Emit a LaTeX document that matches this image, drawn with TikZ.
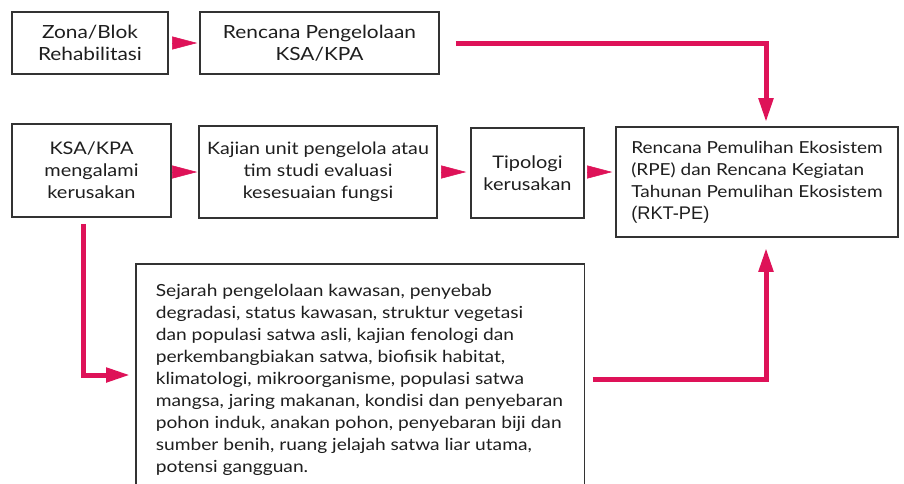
\documentclass[tikz,border=0pt]{standalone}
\usepackage{fontspec}
\setmainfont{Lato}[FakeStretch=1.15]
\newfontfamily\rktfont{Liberation Sans}
\usetikzlibrary{arrows.meta}
\definecolor{flowpink}{HTML}{DE1258}
\definecolor{boxline}{HTML}{333333}
\definecolor{inkgray}{HTML}{1E1E1E}
\begin{document}
% one coordinate unit = 0.75pt
\begin{tikzpicture}[x=0.75pt,y=-0.75pt,
  box/.style={draw=boxline, line width=1.2pt, text=inkgray, align=center,
    inner sep=0pt, font=\fontsize{13}{16.5}\selectfont},
  bigtext/.style={font=\fontsize{13.6}{16.5}\selectfont},
  tiparrow/.style={draw=flowpink, fill=flowpink, line width=0.4pt,
    -{Triangle[length=18.75pt,width=9.75pt]}},
  flow/.style={draw=flowpink, line width=3.75pt,
    -{Triangle[length=18pt,width=10.5pt]}},
]
\useasboundingbox (0,0) rectangle (904,483);
\clip (0,0) rectangle (904,483);

% top row
\node[box, bigtext, minimum width=117pt, minimum height=46.5pt] (zona) at (90,43)
  {Zona/Blok\\Rehabilitasi};
\node[box, bigtext, minimum width=179.25pt, minimum height=46.5pt] (rpk) at (319.5,43)
  {Rencana Pengelolaan\\KSA/KPA};

% middle row
\node[box, minimum width=119.25pt, minimum height=69.75pt] (rusak) at (91.5,170.5)
  {KSA/KPA\\mengalami\\kerusakan};
\node[box, font=\fontsize{12.8}{16.5}\selectfont, minimum width=178.5pt,
  minimum height=69pt] (kajian) at (318,172)
  {Kajian unit pengelola atau\\tim studi evaluasi\\kesesuaian fungsi};
\node[box, minimum width=84.75pt, minimum height=67.5pt] (tipo) at (527.5,173)
  {Tipologi\\kerusakan};
\node[box, minimum width=211.5pt, minimum height=82.5pt, align=left,
  font=\fontsize{12.4}{16.5}\selectfont] (rpe) at (757,182)
  {Rencana Pemulihan Ekosistem\\(RPE) dan Rencana Kegiatan\\Tahunan Pemulihan Ekosistem\\
   {\rktfont\fontsize{13.7}{17.5}\selectfont (RKT-PE)}};

% open-bottomed box with the list of studies
\node[box, draw=none, anchor=north west, minimum width=335.25pt,
  minimum height=180pt] (hist) at (136,264) {};
\node[box, draw=none, anchor=north west, align=left,
  font=\fontsize{12.5}{16.5}\selectfont] (histtext) at ([shift={(19,19)}]hist.north west)
  {Sejarah pengelolaan kawasan, penyebab\\
   degradasi, status kawasan, struktur vegetasi\\
   dan populasi satwa asli, kajian fenologi dan\\
   perkembangbiakan satwa, biofisik habitat,\\
   klimatologi, mikroorganisme, populasi satwa\\
   mangsa, jaring makanan, kondisi dan penyebaran\\
   pohon induk, anakan pohon, penyebaran biji dan\\
   sumber benih, ruang jelajah satwa liar utama,\\
   potensi gangguan.};
\draw[draw=boxline, line width=1.2pt]
  (hist.south west) -- (hist.north west) -- (hist.north east) -- (hist.south east);

% short arrow heads between neighbouring boxes
\draw[tiparrow, shorten <=3.375pt, shorten >=1.5pt] (zona.east) -- (rpk.west);
\draw[tiparrow, shorten <=1.125pt, shorten >=0.75pt] (rusak.east |- kajian.west) -- (kajian.west);
\draw[tiparrow, shorten <=3.375pt, shorten >=3pt] (kajian.east) -- (kajian.east -| tipo.west);
\draw[tiparrow, shorten <=2.625pt, shorten >=2.25pt] (tipo.east |- kajian.east) -- (kajian.east -| rpe.west);

% thick elbow connectors
\coordinate (topbend) at (766,43);
\draw[flow, shorten <=12pt, shorten >=3pt]
  (rpk.east) -- (topbend) -- (topbend |- rpe.north);

\coordinate (leftbend) at (83,375);
\draw[flow, shorten <=4.5pt, shorten >=4.5pt]
  (leftbend |- rusak.south) -- (leftbend) -- (leftbend -| hist.west);

\coordinate (rightbend) at (766,379);
\draw[flow, shorten <=6pt, shorten >=7.5pt]
  (rightbend -| hist.east) -- (rightbend) -- (rightbend |- rpe.south);
\end{tikzpicture}
\end{document}
